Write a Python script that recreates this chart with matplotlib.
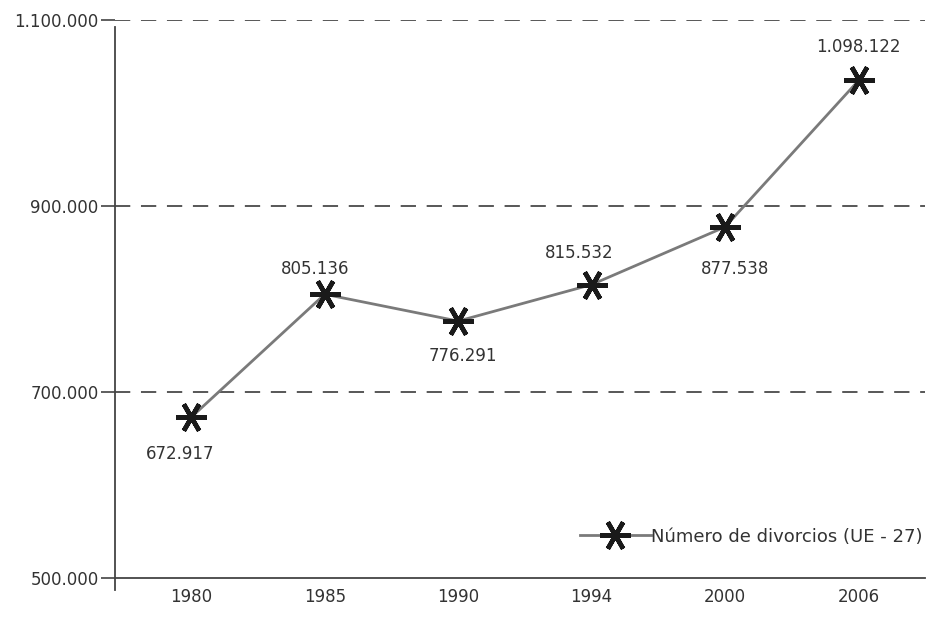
import matplotlib.pyplot as plt
import numpy as np

plt.rcParams['font.family'] = ['DejaVu Sans']

years = ['1980', '1985', '1990', '1994', '2000', '2006']
# plotted positions (the 2006 marker sits lower than its label says)
divorcios = [672917, 805136, 776291, 815532, 877538, 1035000]
etiquetas = ['672.917', '805.136', '776.291', '815.532', '877.538', '1.098.122']
yticks = [500000, 700000, 900000, 1100000]
ylabels = ['500.000', '700.000', '900.000', '1.100.000']

# label offsets in pixels (dx, dy up)
offs = [(-11, -37), (-10, 25), (5, -35), (-12, 32), (10, -42), (0, 33)]

fig = plt.figure(figsize=(9.29, 6.32), dpi=100)
ax = fig.add_axes([0.124, 0.0854, 0.872, 0.8829])

x = np.arange(len(years))
ax.plot(x, divorcios, color='#7a7a7a', lw=2, marker=(6, 2, 90), ms=22,
        mec='#1a1a1a', mew=3.3, label='Número de divorcios (UE - 27)', zorder=3)

for xi, v, t, (dx, dy) in zip(x, divorcios, etiquetas, offs):
    ax.annotate(t, (xi, v), xytext=(dx * 0.72, dy * 0.72), textcoords='offset points',
                ha='center', va='center', fontsize=12, color='#333333')

for g in yticks[1:]:
    ax.axhline(g, color='#2a2a2a', lw=1.1, ls=(0, (10, 7)), zorder=1)

ax.set_ylim(500000, 1100000)
ax.set_xlim(-0.57, 5.5)
ax.set_yticks(yticks)
ax.set_yticklabels(ylabels, fontsize=12, color='#333333')
ax.set_xticks(x)
ax.set_xticklabels(years, fontsize=12, color='#333333')
ax.tick_params(axis='y', length=10, width=1.1, color='#333333', pad=2)
ax.tick_params(axis='x', length=0, pad=7)

for s in ['top', 'right', 'left']:
    ax.spines[s].set_visible(False)
ax.spines['bottom'].set_color('#444444')
ax.spines['bottom'].set_linewidth(1.3)
ax.axvline(-0.57, ymin=-0.0215, ymax=0.9875, color='#444444', lw=1.3, clip_on=False)

leg = ax.legend(loc='lower right', frameon=False, fontsize=13, handlelength=3.9,
                handletextpad=0.05, bbox_to_anchor=(1.006, 0.045), borderaxespad=0)
for t in leg.get_texts():
    t.set_color('#333333')

fig.savefig('out.png', dpi=100)
